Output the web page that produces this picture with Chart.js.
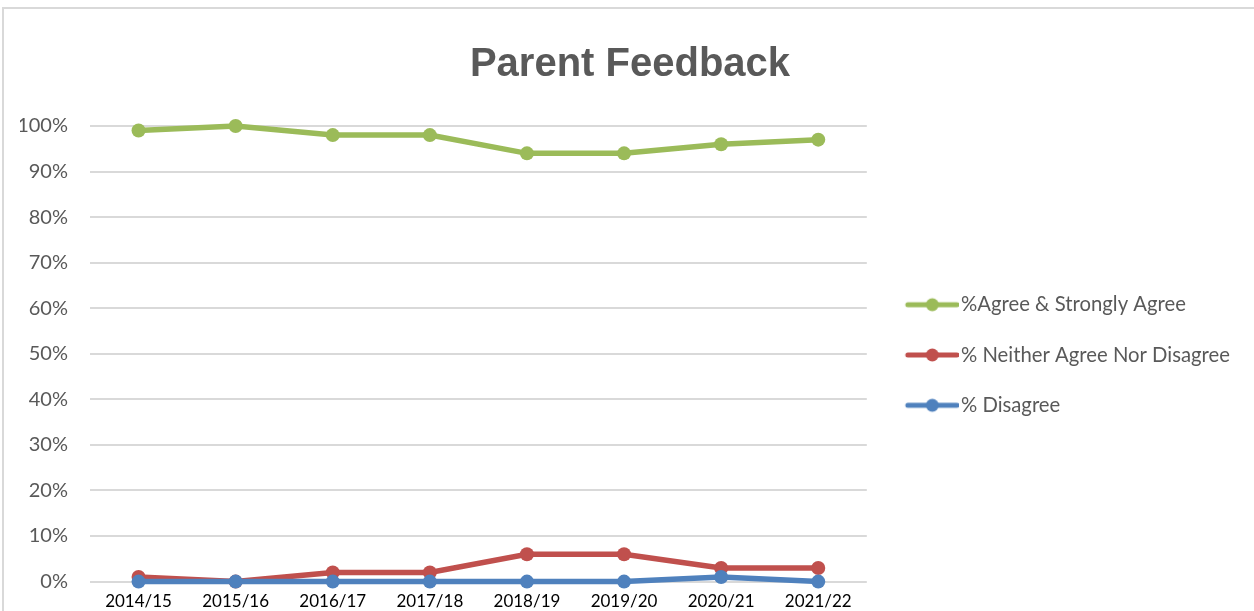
<!DOCTYPE html>
<html>
<head>
<meta charset="utf-8">
<script src="https://cdn.jsdelivr.net/npm/chart.js@4/dist/chart.umd.min.js"></script>
<style>
  html, body { margin: 0; padding: 0; background: #fff; overflow: hidden; }
  #frame { position: absolute; left: 2px; top: 7px; width: 1400px; height: 800px;
           border-left: 2px solid #d9d9d9; border-top: 2px solid #d9d9d9; }
  #wrap { position: absolute; left: 0; top: 0; width: 1254px; height: 630px; }
</style>
</head>
<body>
<div id="frame"></div>
<div id="wrap"><canvas id="chart" width="1254" height="630"></canvas></div>
<script>
// === Data ===
const years = ['2014/15', '2015/16', '2016/17', '2017/18', '2018/19', '2019/20', '2020/21', '2021/22'];
const agreeValues = [99, 100, 98, 98, 94, 94, 96, 97];
const neitherValues = [1, 0, 2, 2, 6, 6, 3, 3];
const disagreeValues = [0, 0, 0, 0, 0, 0, 1, 0];
const seriesNames = ['%Agree & Strongly Agree', '% Neither Agree Nor Disagree', '% Disagree'];
const yTicks = [0, 10, 20, 30, 40, 50, 60, 70, 80, 90, 100];

const GREEN = '#9bbb59', RED = '#c0504d', BLUE = '#4f81bd';
const FONT = 'Lato, "Liberation Sans", Arial, sans-serif';

// little line + dot marker for the legend
function legendMarker(color) {
  const c = document.createElement('canvas');
  c.width = 70; c.height = 16;
  const g = c.getContext('2d');
  g.strokeStyle = color;
  g.lineWidth = 5;
  g.lineCap = 'round';
  g.beginPath(); g.moveTo(19, 8); g.lineTo(68, 8); g.stroke();
  g.fillStyle = color;
  g.beginPath(); g.arc(43.5, 8, 6.5, 0, Math.PI * 2); g.fill();
  return c;
}

function series(label, data, color, order) {
  return {
    label, data, order,
    borderColor: color,
    backgroundColor: color,
    borderWidth: 5.5,
    pointRadius: 7,
    pointHoverRadius: 7,
    pointBorderWidth: 0,
    pointStyle: 'circle',
    clip: false,
    tension: 0,
    marker: legendMarker(color)
  };
}

new Chart(document.getElementById('chart').getContext('2d'), {
  type: 'line',
  data: {
    labels: years,
    datasets: [
      series(seriesNames[0], agreeValues, GREEN, 2),
      series(seriesNames[1], neitherValues, RED, 1),
      series(seriesNames[2], disagreeValues, BLUE, 0)
    ]
  },
  options: {
    responsive: false,
    animation: false,
    layout: { padding: { left: 20, right: 14, top: 0, bottom: 8 } },
    plugins: {
      tooltip: { enabled: false },
      title: {
        display: true,
        text: 'Parent Feedback',
        color: '#595959',
        font: { family: '"Liberation Sans", Arial, sans-serif', size: 40, weight: 'bold' },
        padding: { top: 41, bottom: 37 }
      },
      legend: {
        position: 'right',
        maxWidth: 420,
        // empty title only to push the items down to where the original sits
        title: { display: true, text: '', font: { size: 10 }, padding: { top: 38, bottom: 38 } },
        labels: {
          usePointStyle: true,
          pointStyleWidth: 54,
          padding: 30,
          color: '#595959',
          font: { family: FONT, size: 20.3 },
          generateLabels: chart => chart.data.datasets.map((ds, i) => ({
            text: ds.label,
            pointStyle: ds.marker,
            fillStyle: ds.borderColor,
            strokeStyle: ds.borderColor,
            lineWidth: 0,
            hidden: false,
            datasetIndex: i,
            fontColor: '#595959'
          }))
        }
      }
    },
    scales: {
      x: {
        offset: true,
        grid: { display: false, drawTicks: false },
        border: { display: false },
        ticks: { color: '#000', padding: 10, maxRotation: 0, font: { family: FONT, size: 17 } }
      },
      y: {
        min: 0, max: 100,
        afterFit: s => { s.width = 70; },
        afterBuildTicks: s => { s.ticks = yTicks.map(v => ({ value: v })); },
        grid: { color: '#d9d9d9', lineWidth: 2, drawTicks: false },
        border: { display: false },
        ticks: { color: '#595959', padding: 22, font: { family: FONT, size: 20 }, callback: v => v + '%' }
      }
    }
  }
});
</script>
</body>
</html>
